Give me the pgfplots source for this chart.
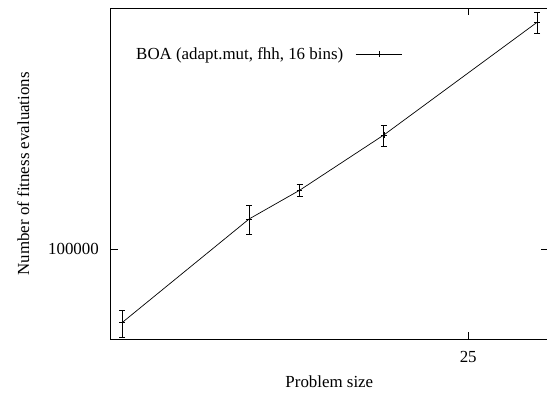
\documentclass[border=0pt]{standalone}
\usepackage{pgfplots}
\pgfplotsset{compat=1.18}
\usepackage{pgfplotstable}
\usepackage{fontspec}
\setmainfont{Liberation Serif}
\pgfplotstableread{
x y ep em
10 56800 5700 6000
14 125900 13500 13700
16 156900 7400 7000
20 239900 18500 19500
30 569600 43600 46000
}\boadata
\begin{document}
\begin{tikzpicture}[font=\fontsize{16.9bp}{20bp}\selectfont]
\begin{axis}[
  name=ax,
  scale only axis,
  width=437.3bp, height=331bp,
  xmode=log, ymode=log,
  xmin=9.705, xmax=30.88,
  ymin=50000, ymax=634200,
  xtick={25}, xticklabels={25},
  ytick={100000}, yticklabels={100000},
  minor tick length=0pt,
  major tick length=7bp,
  tick align=inside,
  axis line style={line width=1bp},
  every tick/.style={line width=0.8bp, black},
  xticklabel style={anchor=base, inner sep=0pt, yshift=-23bp},
  yticklabel style={anchor=east, inner sep=0pt, xshift=-11.7bp},
  xlabel={Problem size},
  ylabel={Number of fitness evaluations},
  xlabel style={at={(axis description cs:0.5,0)}, anchor=base, inner sep=0pt, yshift=-48.7bp},
  ylabel style={at={(axis description cs:0,0.5)}, anchor=center, inner sep=0pt, yshift=87.5bp},
  legend style={draw=none, fill=none, inner sep=0pt, at={(axis description cs:0.0579,0.862)}, anchor=west, nodes={inner sep=0pt}},
  legend plot pos=right,
  legend image code/.code={\path (0bp,0bp); \draw[#1, mark repeat=2, mark phase=2] plot coordinates {(12bp,0bp) (35.35bp,0bp) (58.7bp,0bp)};},
]
\addplot[black, line width=0.7bp, mark=+, mark size=2.7bp,
  error bars/.cd, y dir=both, y explicit,
  error bar style={line width=0.8bp},
  error mark options={rotate=90, mark size=3bp, line width=0.8bp}]
  table[x=x, y=y, y error plus=ep, y error minus=em] {\boadata};
\addlegendentry{BOA (adapt.mut, fhh, 16 bins)}
\end{axis}
\pgfresetboundingbox
\path (ax.south west) ++(-110.7bp,-53.7bp) rectangle ++(547bp,393bp);
\end{tikzpicture}
\end{document}
